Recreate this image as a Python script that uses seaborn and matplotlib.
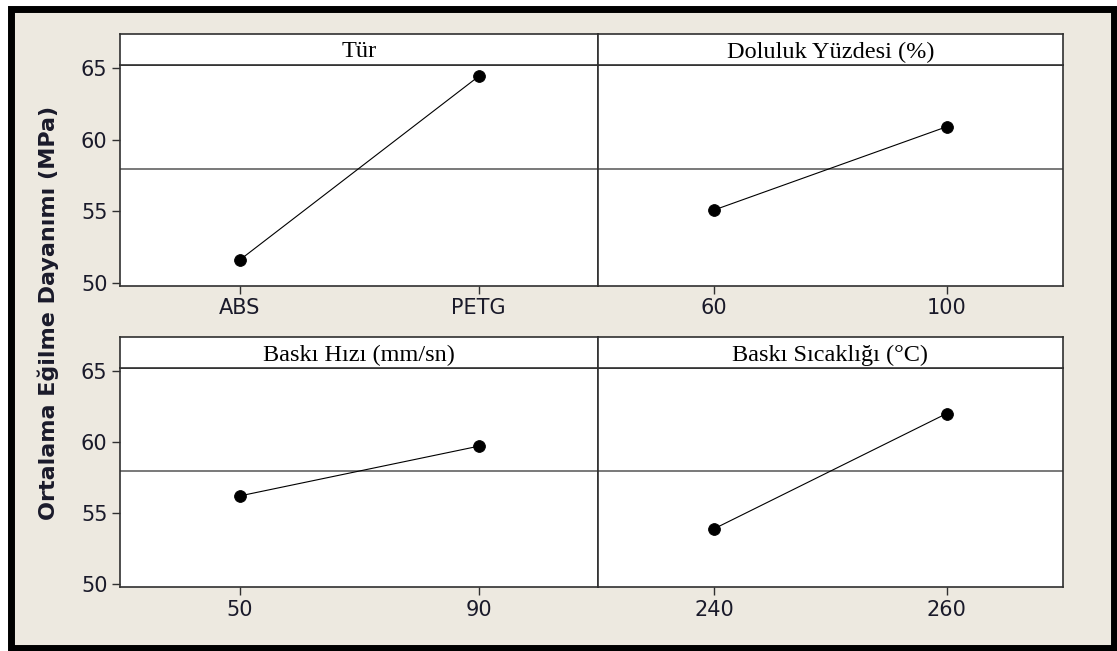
import numpy as np
import pandas as pd
import matplotlib
matplotlib.use("Agg")
import matplotlib.pyplot as plt
from matplotlib.patches import Rectangle
import seaborn as sns

# Main-effects means for flexural strength (MPa)
factor_titles = ["Tür", "Doluluk Yüzdesi (%)", "Baskı Hızı (mm/sn)", "Baskı Sıcaklığı (°C)"]
tur_levels = ["ABS", "PETG"]
tur_means = [51.6, 64.4]
doluluk_levels = ["60", "100"]
doluluk_means = [55.1, 60.9]
hiz_levels = ["50", "90"]
hiz_means = [56.2, 59.7]
sicaklik_levels = ["240", "260"]
sicaklik_means = [53.9, 62.0]
y_ticks = [50, 55, 60, 65]
y_label = "Ortalama Eğilme Dayanımı (MPa)"

factors = [
    (factor_titles[0], tur_levels, tur_means),
    (factor_titles[1], doluluk_levels, doluluk_means),
    (factor_titles[2], hiz_levels, hiz_means),
    (factor_titles[3], sicaklik_levels, sicaklik_means),
]
grand_mean = np.mean(tur_means + doluluk_means + hiz_means + sicaklik_means)

sns.set_theme(style="white")
plt.rcParams["font.family"] = ["DejaVu Sans"]

W, H = 1117, 651
fig = plt.figure(figsize=(W / 100, H / 100), dpi=100, facecolor="white")

# beige panel with heavy black frame
fig.patches.append(Rectangle((10.5 / W, 1 - 648 / H), (1114 - 10.5) / W, (648 - 8.5) / H,
                             transform=fig.transFigure, facecolor="#EDE9E0",
                             edgecolor="black", linewidth=5, zorder=-5))

frame_col = "#303030"
text_col = "#1a1a2a"
col_x = [(120, 598), (598, 1063)]
row_y = [(34, 65, 286), (337, 368, 587)]

def fx(px):
    return px / W

def fy(py):
    return 1 - py / H

for i, (title, levels, means) in enumerate(factors):
    r, c = divmod(i, 2)
    x0, x1 = col_x[c]
    ys, yd, yb = row_y[r]
    ax = fig.add_axes([fx(x0), fy(yb), fx(x1) - fx(x0), fy(yd) - fy(yb)])
    sax = fig.add_axes([fx(x0), fy(yd), fx(x1) - fx(x0), fy(ys) - fy(yd)])

    df = pd.DataFrame({"level": levels, "mean": means})
    ax.axhline(grand_mean, color="#555555", linewidth=1.1, zorder=1)
    sns.pointplot(data=df, x="level", y="mean", order=levels, color="black",
                  markers="o", linestyles="-", markersize=8.5, linewidth=0.8,
                  errorbar=None, ax=ax)
    ax.set_xlim(-0.5, 1.5)
    ax.set_ylim(49.8, 65.2)
    ax.set_facecolor("white")
    ax.set_xlabel("")
    ax.set_ylabel("")
    ax.tick_params(axis="x", direction="out", length=6, width=1, color=frame_col,
                   labelsize=15, pad=3, labelcolor=text_col, bottom=True)
    ax.set_yticks(y_ticks)
    if c == 0:
        ax.tick_params(axis="y", direction="out", length=6, width=1, color=frame_col,
                       labelsize=15, pad=3, labelcolor=text_col, left=True)
    else:
        ax.tick_params(axis="y", left=False, labelleft=False)
    for s in ax.spines.values():
        s.set_color(frame_col)
        s.set_linewidth(1.2)

    sax.set_facecolor("white")
    sax.set_xticks([])
    sax.set_yticks([])
    for s in sax.spines.values():
        s.set_color(frame_col)
        s.set_linewidth(1.2)
    sax.text(0.5, 0.42, title, ha="center", va="center", transform=sax.transAxes,
             family="Liberation Serif", fontsize=17.5, color="black")

fig.text(fx(48), fy(313), y_label, rotation=90, ha="center", va="center",
         fontsize=16, fontweight="bold", color=text_col)

fig.savefig("out.png", dpi=100, facecolor="white")
